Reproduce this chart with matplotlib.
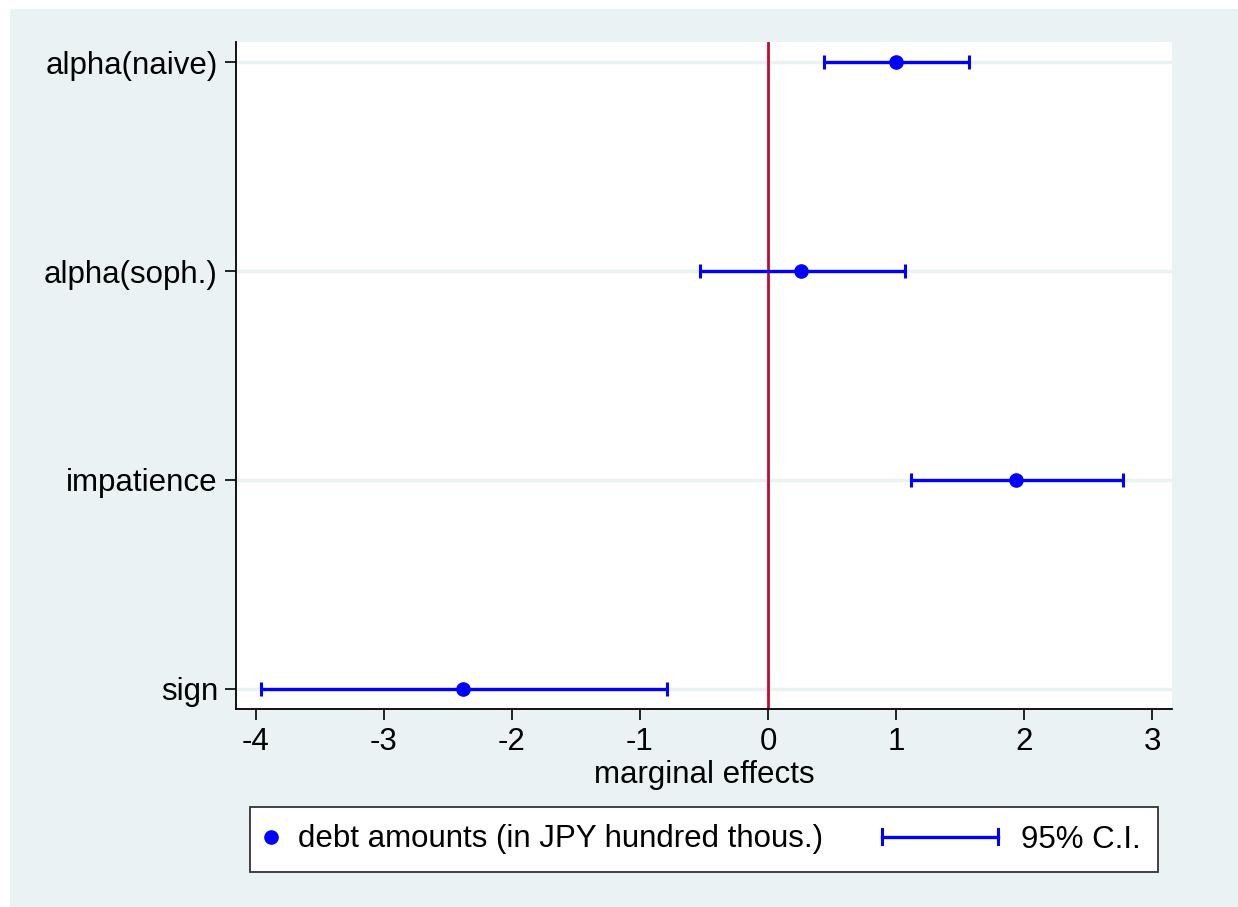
import matplotlib
matplotlib.use("Agg")
import matplotlib.pyplot as plt
from matplotlib.lines import Line2D
from matplotlib.patches import Rectangle
from matplotlib.legend_handler import HandlerBase

# coefficient estimates and 95% CI
labels = ["sign", "impatience", "alpha(soph.)", "alpha(naive)"]
coef = [-2.38, 1.94, 0.26, 1.00]
ci_low = [-3.96, 1.12, -0.53, 0.44]
ci_high = [-0.79, 2.77, 1.07, 1.57]
xticks = [-4, -3, -2, -1, 0, 1, 2, 3]

BG = "#EAF2F3"
BLUE = "#0000FF"
RED = "#C20A30"
FS = 22.5

plt.rcParams["font.family"] = ["Liberation Sans", "DejaVu Sans"]

fig = plt.figure(figsize=(12.38, 9.07), dpi=100, facecolor="white")
# light background, with a thin white margin at top/left like the original
fig.patches.append(Rectangle((10 / 1238, 0), 1, 1 - 9 / 907, transform=fig.transFigure,
                             facecolor=BG, edgecolor="none", zorder=-1))

ax = fig.add_axes([236 / 1238, 1 - 709 / 907, (1172 - 236) / 1238, (709 - 42) / 907])
ax.set_facecolor("white")

ypos = list(range(len(labels)))

# horizontal grid at each category
for y in ypos:
    ax.axhline(y, color=BG, lw=2.5, zorder=1)

ax.axvline(0, color=RED, lw=2.0, zorder=2)

xerr = [[c - lo for c, lo in zip(coef, ci_low)], [hi - c for c, hi in zip(coef, ci_high)]]
eb = ax.errorbar(coef, ypos, xerr=xerr, fmt="none", ecolor=BLUE, elinewidth=2.4,
                 capsize=5.2, capthick=2.2, zorder=3)
pts, = ax.plot(coef, ypos, "o", color=BLUE, ms=9.5, zorder=4)

ax.set_xlim(-4.153, 3.154)
ax.set_ylim(-0.096, 3.096)
ax.set_xticks(xticks)
ax.set_xticklabels([str(t) for t in xticks])
ax.set_yticks(ypos)
ax.set_yticklabels(labels)
ax.tick_params(axis="both", labelsize=FS, length=8, width=1.2, color="black", direction="out")
ax.tick_params(axis="y", pad=5)
ax.tick_params(axis="x", pad=5)
for s in ["top", "right"]:
    ax.spines[s].set_visible(False)
for s in ["left", "bottom"]:
    ax.spines[s].set_linewidth(1.3)
    ax.spines[s].set_color("black")
ax.set_xlabel("marginal effects", fontsize=FS, labelpad=2)


class CIHandler(HandlerBase):
    def create_artists(self, legend, orig_handle, xdescent, ydescent, width, height,
                       fontsize, trans):
        y = height / 2 - ydescent
        x1 = -xdescent + width
        x0 = x1 - 83
        h = 5.2
        arts = [Line2D([x0, x1], [y, y], color=BLUE, lw=2.4),
                Line2D([x0, x0], [y - h, y + h], color=BLUE, lw=2.2),
                Line2D([x1, x1], [y - h, y + h], color=BLUE, lw=2.2)]
        for a in arts:
            a.set_transform(trans)
        return arts


ci_proxy = Line2D([], [], color=BLUE)
mk_proxy = Line2D([], [], marker="o", color=BLUE, ls="none", ms=9.5)
leg = fig.legend([mk_proxy, ci_proxy],
                 ["debt amounts (in JPY hundred thous.)", "95% C.I."],
                 loc="center", ncol=2, mode="expand", borderaxespad=0,
                 bbox_to_anchor=(250 / 1238, 1 - 869 / 907, (1158 - 250) / 1238, (869 - 810) / 907),
                 fontsize=FS, handlelength=0.25, handletextpad=0.75, borderpad=0.55,
                 fancybox=False, framealpha=1, edgecolor="#333333",
                 handler_map={ci_proxy: CIHandler()})
leg.get_frame().set_linewidth(1.3)

fig.savefig("out.png", dpi=100, facecolor=fig.get_facecolor())
